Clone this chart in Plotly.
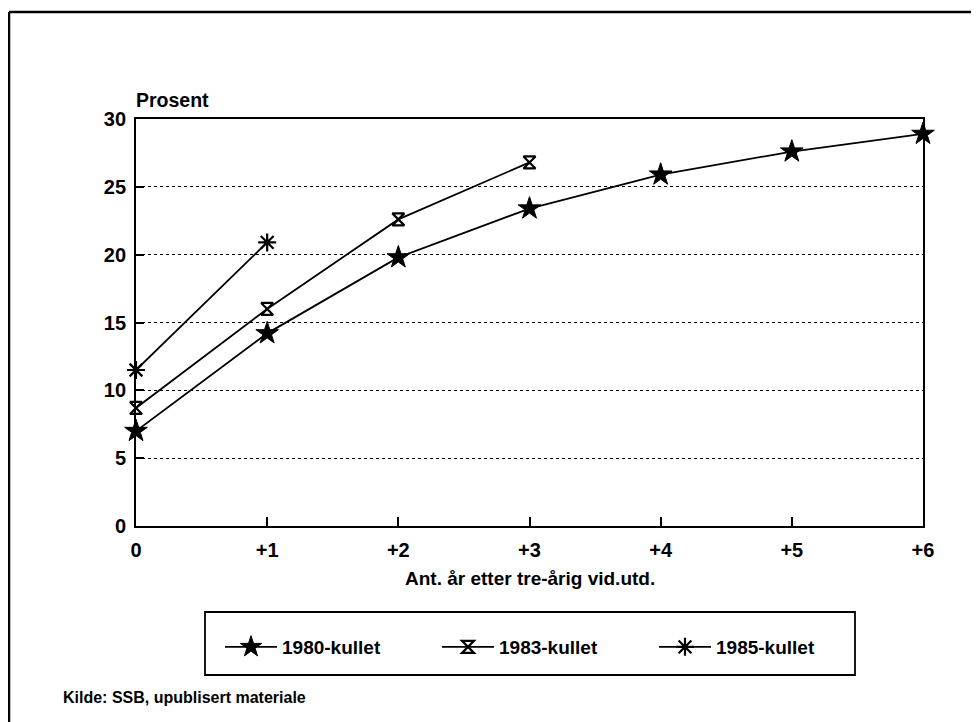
import plotly.graph_objects as go

# Data
x_vals = [0, 1, 2, 3, 4, 5, 6]
x_labels = ["0", "+1", "+2", "+3", "+4", "+5", "+6"]
kull_1980 = [7.0, 14.2, 19.8, 23.4, 25.9, 27.6, 28.9]
kull_1983 = [8.7, 16.0, 22.6, 26.8]
kull_1985 = [11.5, 20.9]
y_ticks = [0, 5, 10, 15, 20, 25, 30]

# page body has an 8px margin, so the figure is offset by 8px
OFF = 8
W, H = 979 - OFF, 722 - OFF
L, R, T, B = 136, 923, 119, 526  # plot area in screen pixels
FONT = "Liberation Sans, Arial, Helvetica, sans-serif"

def px_x(p):
    return (p - L) / (R - L)

def px_y(p):
    return (B - p) / (B - T)

fig = go.Figure()
fig.add_trace(go.Scatter(
    x=x_vals[:len(kull_1980)], y=kull_1980, name="1980-kullet", mode="lines+markers",
    line=dict(color="black", width=1.8),
    marker=dict(symbol="star", size=17, color="black", line=dict(color="black", width=1)),
    cliponaxis=False))
fig.add_trace(go.Scatter(
    x=x_vals[:len(kull_1983)], y=kull_1983, name="1983-kullet", mode="lines+markers",
    line=dict(color="black", width=1.8),
    marker=dict(symbol="hourglass-open", size=12, color="black", line=dict(color="black", width=2.2)),
    cliponaxis=False))
fig.add_trace(go.Scatter(
    x=x_vals[:len(kull_1985)], y=kull_1985, name="1985-kullet", mode="lines+markers",
    line=dict(color="black", width=1.8),
    marker=dict(symbol="asterisk-open", size=15, color="black", line=dict(color="black", width=2.2)),
    cliponaxis=False))

fig.update_layout(
    width=W, height=H,
    margin=dict(l=L - OFF, r=W - (R - OFF), t=T - OFF, b=H - (B - OFF), pad=0),
    paper_bgcolor="white", plot_bgcolor="white",
    font=dict(family=FONT, color="black"),
    showlegend=True,
    legend=dict(
        orientation="h", x=px_x(220), y=px_y(628), xanchor="left", yanchor="top",
        font=dict(family=FONT, size=19, color="black", weight="bold"),
        bgcolor="rgba(0,0,0,0)", borderwidth=0,
        entrywidth=150, entrywidthmode="pixels", itemwidth=52,
    ),
    xaxis=dict(
        range=[0, 6], tickvals=x_vals, ticktext=x_labels,
        showline=True, linecolor="black", linewidth=1.8, mirror=True,
        ticks="inside", ticklen=9, tickwidth=1.5, tickcolor="black",
        showgrid=False, zeroline=False,
        tickfont=dict(family=FONT, size=20, color="black", weight="bold"),
        ticklabelstandoff=5,
    ),
    yaxis=dict(
        range=[0, 30], tickvals=y_ticks,
        showline=True, linecolor="black", linewidth=1.8, mirror=True,
        ticks="inside", ticklen=8, tickwidth=1.5, tickcolor="black",
        showgrid=True, gridcolor="black", gridwidth=1.3, griddash="dot",
        zeroline=False,
        tickfont=dict(family=FONT, size=20, color="black", weight="bold"),
        ticklabelstandoff=4,
    ),
    shapes=[
        # legend box
        dict(type="rect", xref="paper", yref="paper",
             x0=px_x(205), x1=px_x(855), y0=px_y(612), y1=px_y(675),
             line=dict(color="black", width=1.8), fillcolor="rgba(0,0,0,0)"),
        # outer frame (top and left edges)
        dict(type="line", xref="paper", yref="paper",
             x0=px_x(9), x1=px_x(990), y0=px_y(12), y1=px_y(12),
             line=dict(color="black", width=2.5)),
        dict(type="line", xref="paper", yref="paper",
             x0=px_x(9), x1=px_x(9), y0=px_y(12), y1=px_y(740),
             line=dict(color="black", width=2.5)),
    ],
    annotations=[
        dict(text="Prosent", xref="paper", yref="paper", x=px_x(134), y=px_y(100),
             xanchor="left", yanchor="middle", showarrow=False,
             font=dict(family=FONT, size=19.5, color="black", weight="bold")),
        dict(text="Ant. år etter tre-årig vid.utd.", xref="paper", yref="paper",
             x=px_x(530), y=px_y(578), xanchor="center", yanchor="middle", showarrow=False,
             font=dict(family=FONT, size=19, color="black", weight="bold")),
        dict(text="Kilde: SSB, upublisert materiale", xref="paper", yref="paper",
             x=px_x(61), y=px_y(697), xanchor="left", yanchor="middle", showarrow=False,
             font=dict(family=FONT, size=16, color="black", weight="bold")),
    ],
)

fig.write_html("out.html")
